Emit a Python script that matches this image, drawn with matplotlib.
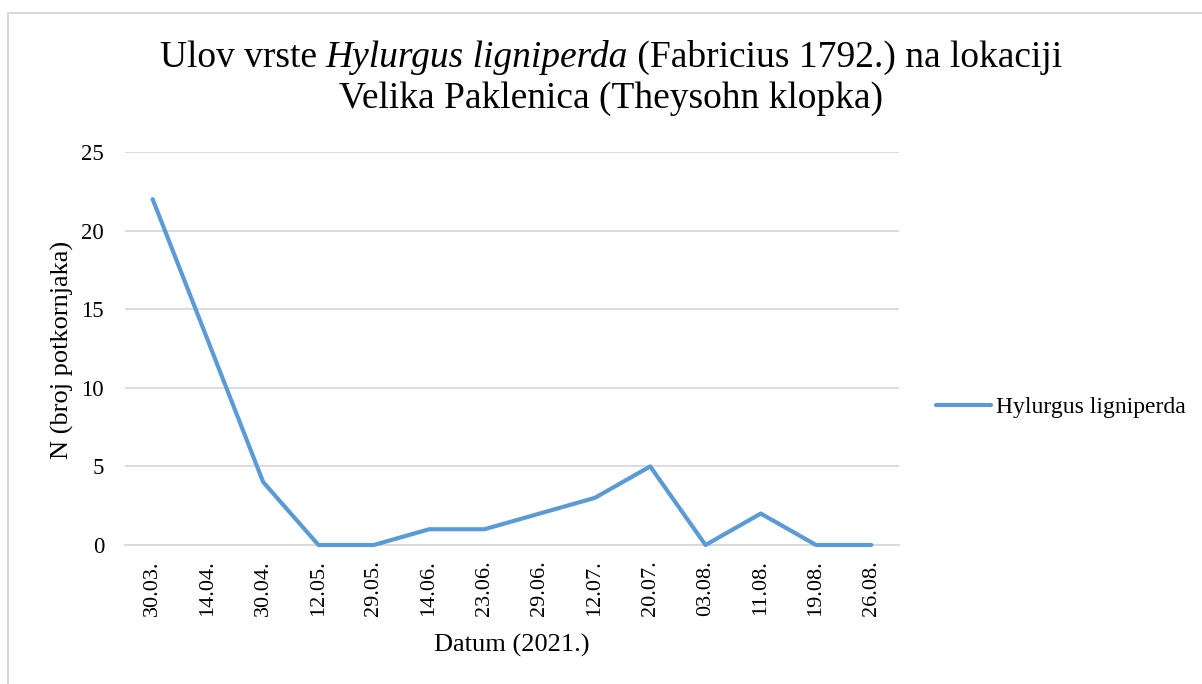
import matplotlib
matplotlib.use("Agg")
import matplotlib.pyplot as plt
from matplotlib.patches import Rectangle

dates = ["30.03.", "14.04.", "30.04.", "12.05.", "29.05.", "14.06.", "23.06.",
         "29.06.", "12.07.", "20.07.", "03.08.", "11.08.", "19.08.", "26.08."]
counts = [22, 13, 4, 0, 0, 1, 1, 2, 3, 5, 0, 2, 0, 0]
yticks = [0, 5, 10, 15, 20, 25]
series_name = "Hylurgus ligniperda"
title_parts = [("Ulov vrste ", "normal"), ("Hylurgus ligniperda", "italic"),
               (" (Fabricius 1792.) na lokaciji", "normal")]
title_line2 = "Velika Paklenica (Theysohn klopka)"

plt.rcParams['font.family'] = ['Liberation Serif', 'DejaVu Serif']

W, H = 1202, 684
fig = plt.figure(figsize=(W / 100, H / 100), dpi=100)
fig.patch.set_facecolor('white')

# chart border
fig.add_artist(Rectangle((8 / W, -0.1), 1.2, 1 - 13 / H + 0.1, transform=fig.transFigure,
                         fill=False, edgecolor='#d9d9d9', linewidth=1.5))

ax = fig.add_axes([125 / W, 1 - 545 / H, (899 - 125) / W, (545 - 152) / H])
x = list(range(len(dates)))
line, = ax.plot(x, counts, color='#5B9BD5', linewidth=3, solid_joinstyle='round',
                solid_capstyle='round', label=series_name, clip_on=False, zorder=3)

ax.set_xlim(-0.5, len(dates) - 0.5)
ax.set_ylim(0, 25)
ax.set_yticks(yticks)
ax.set_xticks(x)
ax.set_xticklabels(dates, rotation=90, fontsize=16)
ax.tick_params(axis='y', labelsize=16.5, length=0, pad=15)
ax.tick_params(axis='x', length=0, pad=11)
ax.grid(axis='y', color='#d9d9d9', linewidth=1.3)
ax.set_axisbelow(True)
for s in ['top', 'right', 'left']:
    ax.spines[s].set_visible(False)
ax.spines['bottom'].set_color('#d9d9d9')
ax.spines['bottom'].set_linewidth(1.3)

fig.text(62 / W, 1 - 350 / H, "N (broj potkornjaka)", rotation=90, ha='center', va='center', fontsize=19)
fig.text(512 / W, 1 - 645 / H, "Datum (2021.)", ha='center', va='center', fontsize=19)

# Title line 1 with italic species name, assembled from pieces
TS = 27
renderer = fig.canvas.get_renderer()
texts = []
for s, st in title_parts:
    t = fig.text(0, 1 - 67 / H, s, fontsize=TS, style=st, va='baseline', ha='left')
    texts.append(t)
widths = [t.get_window_extent(renderer).width for t in texts]
total = sum(widths)
xpos = 611 - total / 2
for t, w in zip(texts, widths):
    t.set_x(xpos / W)
    xpos += w
fig.text(611 / W, 1 - 108 / H, title_line2, ha='center', va='baseline', fontsize=TS)

leg = fig.legend(handles=[line], loc='center left', bbox_to_anchor=(936 / W, 1 - 407 / H),
                 frameon=False, fontsize=17, handlelength=2.35, handletextpad=0.2,
                 borderaxespad=0, borderpad=0)

fig.savefig("out.png", dpi=100)
